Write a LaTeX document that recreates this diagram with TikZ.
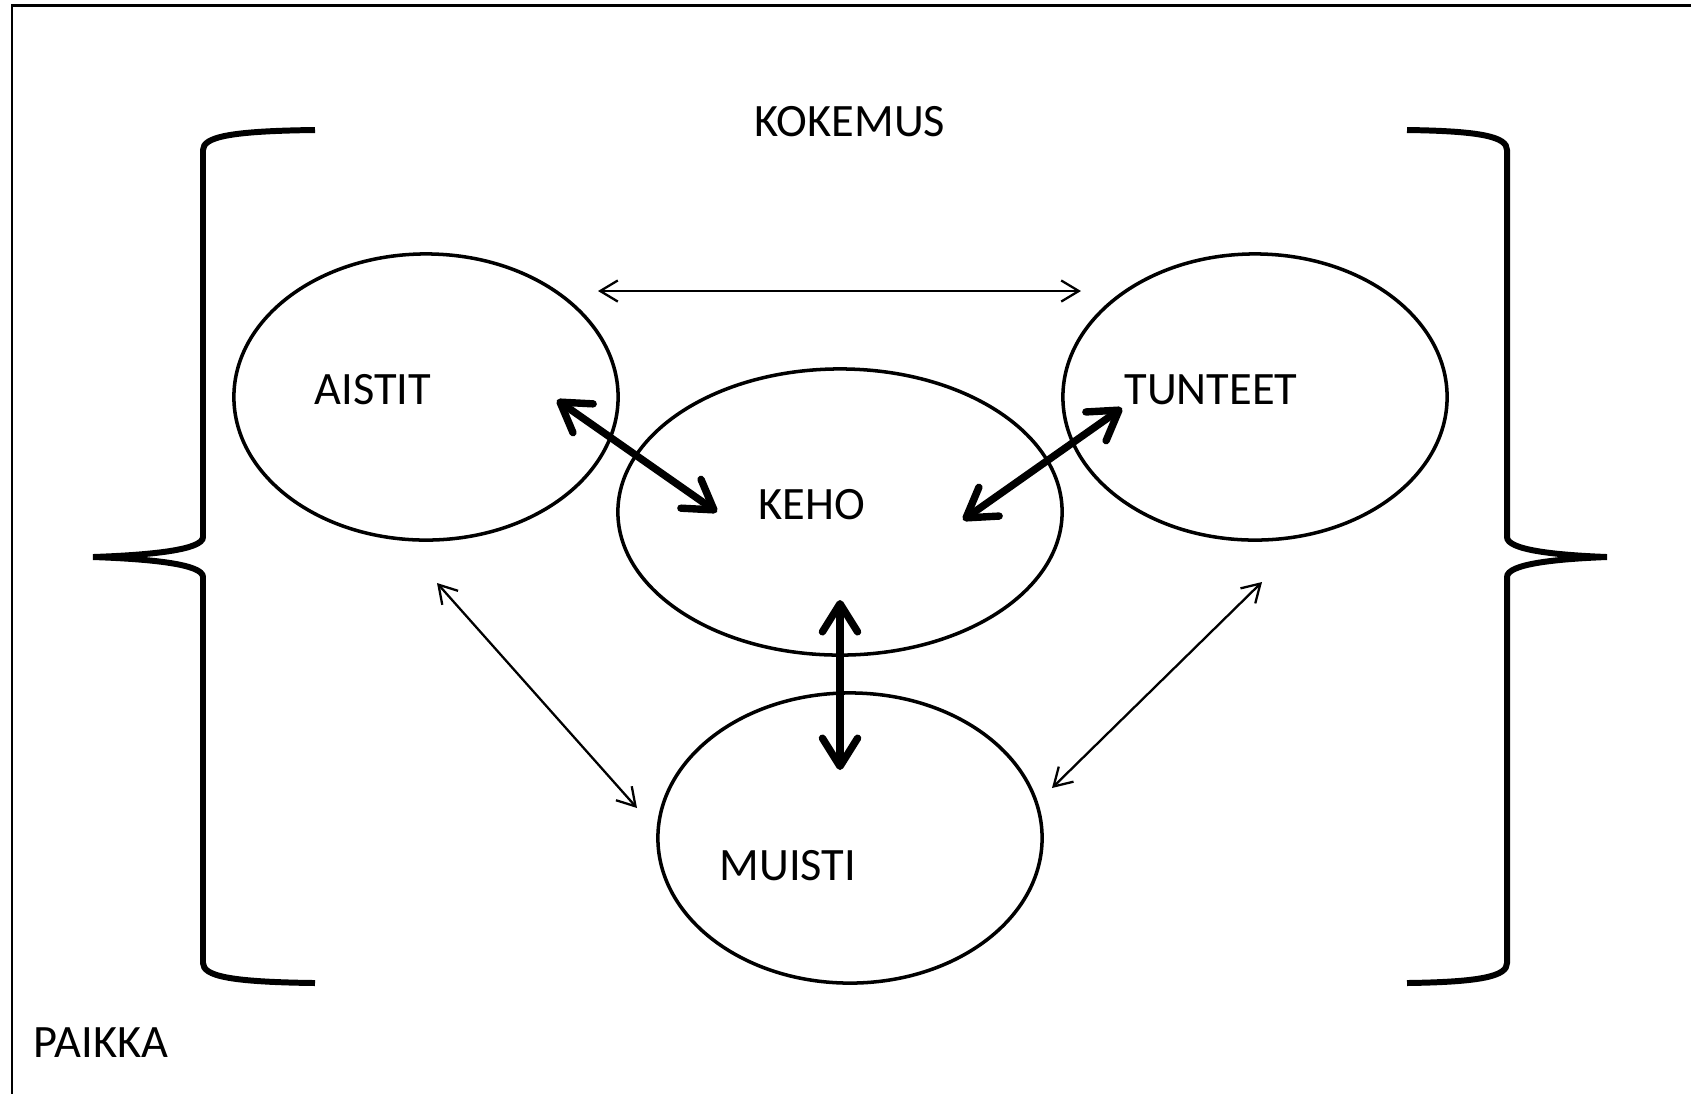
\documentclass[tikz,border=0pt]{standalone}
\usepackage{fontspec}
\setmainfont{Carlito}
\usetikzlibrary{shapes.geometric,arrows.meta,calc}
\tikzset{
  piiri/.style={draw, ellipse, line width=1pt, inner sep=0pt, minimum width=3.84cm, minimum height=2.86cm},
  teksti/.style={font=\fontsize{13.2}{16}\selectfont, inner sep=0pt},
  ohut/.style={line width=0.65pt, {Straight Barb[length=5pt,width=6pt]}-{Straight Barb[length=5pt,width=6pt]}},
  paksu/.style={line width=2.1pt, {Straight Barb[length=8pt,width=10pt,round]}-{Straight Barb[length=8pt,width=10pt,round]}},
  sulku/.style={line width=1.7pt}
}

\begin{document}
\begin{tikzpicture}[x=0.01cm, y=-0.01cm]
    \useasboundingbox (0,0) rectangle (1691,1093);
    %Frame
    \draw[line width=0.85pt] (12,1100) -- (12,5) -- (1700,5);
    %Ellipses
    \node[piiri] (aistit) at (426,397) {};
    \node[piiri, minimum width=4.44cm] (keho) at (840,512) {};
    \node[piiri] (tunteet) at (1255,397) {};
    \node[piiri, minimum height=2.90cm] (muisti) at (850,838) {};
    %Texts
    \node[teksti] (aistit-t) at (373,390) {AISTIT};
    \node[teksti] (keho-t) at (812,505) {KEHO};
    \node[teksti] (tunteet-t) at (1211,390) {TUNTEET};
    \node[teksti] (muisti-t) at (788,866) {MUISTI};
    \node[teksti] (kokemus) at (850,122) {KOKEMUS};
    \node[teksti] (paikka) at (101,1043) {PAIKKA};
    %Left brace
    \draw[sulku] (315,130) .. controls (230,131) and (203,137) .. (203,150) -- (203,537)
        .. controls (203,550) and (150,555) .. (93,557)
        .. controls (150,559) and (203,564) .. (203,577) -- (203,963)
        .. controls (203,976) and (230,982) .. (315,983);
    %Right brace
    \draw[sulku] (1407,130) .. controls (1482,131) and (1507,137) .. (1507,150) -- (1507,537)
        .. controls (1507,550) and (1555,555) .. (1607,557)
        .. controls (1555,559) and (1507,564) .. (1507,577) -- (1507,963)
        .. controls (1507,976) and (1482,982) .. (1407,983);
    %Arrow ends
    \coordinate (a-t) at ($(aistit)+(172,-106)$);
    \coordinate (t-a) at ($(tunteet)+(-174,-106)$);
    \coordinate (a-m) at ($(aistit)+(11,186)$);
    \coordinate (m-a) at ($(muisti)+(-213,-30)$);
    \coordinate (t-m) at ($(tunteet)+(7,185)$);
    \coordinate (m-t) at ($(muisti)+(202,-50)$);
    \coordinate (a-k) at ($(aistit)+(131,3)$);
    \coordinate (k-a) at ($(keho)+(-123,0)$);
    \coordinate (k-t) at ($(keho)+(123,8)$);
    \coordinate (t-k) at ($(tunteet)+(-133,11)$);
    \coordinate (k-m) at ($(keho)+(0,88)$);
    \coordinate (m-k) at ($(muisti)+(-10,-68)$);
    %Thin arrows
    \draw[ohut] (a-t) -- (t-a);
    \draw[ohut] (a-m) -- (m-a);
    \draw[ohut] (t-m) -- (m-t);
    %Thick arrows
    \draw[paksu] (a-k) -- (k-a);
    \draw[paksu] (k-t) -- (t-k);
    \draw[paksu] (k-m) -- (m-k);
\end{tikzpicture}
\end{document}
